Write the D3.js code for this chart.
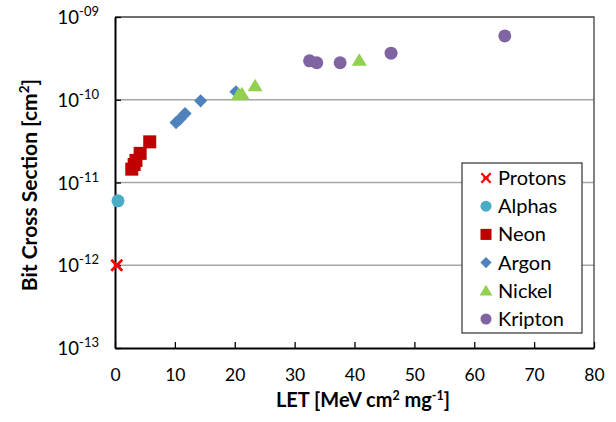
<!DOCTYPE html>
<html>
<head>
<meta charset="utf-8">
<script src="https://cdn.jsdelivr.net/npm/d3@7"></script>
<style>
  body { margin: 0; background: #fff; }
  text { font-family: Lato, "Open Sans", sans-serif; fill: #000; }
</style>
</head>
<body>
<div class="canvas"></div>
<script>
// data: [LET, cross section]
const protons = [[0.3, 1.0e-12]];
const alphas = [[0.5, 6.0e-12]];
const neon = [[2.8, 1.45e-11], [3.2, 1.65e-11], [3.5, 1.85e-11], [4.2, 2.25e-11], [5.8, 3.1e-11]];
const argon = [[10.2, 5.3e-11], [10.8, 5.8e-11], [11.7, 6.8e-11], [14.3, 9.7e-11], [20.2, 1.25e-10]];
const nickel = [[20.6, 1.15e-10], [21.2, 1.18e-10], [23.4, 1.48e-10], [40.8, 3.0e-10]];
const kripton = [[32.5, 2.95e-10], [33.7, 2.8e-10], [37.6, 2.8e-10], [46.1, 3.65e-10], [65.1, 5.9e-10]];

const xTicks = [0, 10, 20, 30, 40, 50, 60, 70, 80];
const yTicks = [1e-13, 1e-12, 1e-11, 1e-10, 1e-9];
const yTickLabels = ['-13', '-12', '-11', '-10', '-09'];

const series = [
    { name: 'Protons', data: protons, color: '#ff0000', shape: 'x' },
    { name: 'Alphas', data: alphas, color: '#4bacc6', shape: 'circle' },
    { name: 'Neon', data: neon, color: '#c00000', shape: 'square' },
    { name: 'Argon', data: argon, color: '#4f81bd', shape: 'diamond' },
    { name: 'Nickel', data: nickel, color: '#92d050', shape: 'triangle' },
    { name: 'Kripton', data: kripton, color: '#8064a2', shape: 'circle' }
];

const W = 616, H = 422;
const plot = { left: 115, right: 594, top: 17, bottom: 348 };

const svg = d3.select('.canvas')
    .append('svg')
    .attr('width', W)
    .attr('height', H);

const x = d3.scaleLinear().domain([0, 80]).range([plot.left, plot.right]);
const y = d3.scaleLog().domain([1e-13, 1e-9]).range([plot.bottom, plot.top]);

// gridlines
svg.append('g')
    .selectAll('line')
    .data(yTicks.slice(1, -1))
    .join('line')
    .attr('x1', plot.left).attr('x2', plot.right)
    .attr('y1', d => y(d)).attr('y2', d => y(d))
    .attr('stroke', '#a6a6a6').attr('stroke-width', 1.3);

// frame (top + right)
svg.append('path')
    .attr('d', `M${plot.left},${plot.top}H${plot.right}V${plot.bottom}`)
    .attr('fill', 'none').attr('stroke', '#404040').attr('stroke-width', 1.3);

// x axis, ticks inward
const xAxis = svg.append('g')
    .attr('transform', `translate(0,${plot.bottom})`)
    .call(d3.axisBottom(x).tickValues(xTicks).tickSizeInner(-6).tickSizeOuter(0).tickPadding(21));
xAxis.select('.domain').attr('stroke', '#000').attr('stroke-width', 2);
xAxis.selectAll('.tick line').attr('stroke', '#000').attr('stroke-width', 1.3);
xAxis.selectAll('.tick text').attr('font-size', 17.5).attr('font-family', 'Lato, sans-serif');

// y axis, ticks inward
const yAxis = svg.append('g')
    .attr('transform', `translate(${plot.left},0)`)
    .call(d3.axisLeft(y).tickValues(yTicks).tickSizeInner(-6).tickSizeOuter(0).tickFormat(''));
yAxis.select('.domain').attr('stroke', '#000').attr('stroke-width', 2);
yAxis.selectAll('.tick line').attr('stroke', '#000').attr('stroke-width', 1.3);

// y tick labels as 10 with superscript
const yl = svg.append('g').selectAll('text')
    .data(yTicks)
    .join('text')
    .attr('x', 99)
    .attr('y', d => y(d) + 7)
    .attr('text-anchor', 'end')
    .attr('font-size', 18.5);
yl.append('tspan').text('10');
yl.append('tspan').attr('dy', -8).attr('font-size', 13).text((d, i) => yTickLabels[i]);

// axis titles
const xt = svg.append('text')
    .attr('x', 363)
    .attr('y', 407)
    .attr('text-anchor', 'middle')
    .attr('font-size', 20).attr('font-weight', 'bold');
xt.append('tspan').text('LET [MeV cm');
xt.append('tspan').attr('dy', -7).attr('font-size', 12.5).text('2');
xt.append('tspan').attr('dy', 7).text(' mg');
xt.append('tspan').attr('dy', -7).attr('font-size', 12.5).text('-1');
xt.append('tspan').attr('dy', 7).text(']');

const yt = svg.append('text')
    .attr('transform', `translate(37,${185}) rotate(-90)`)
    .attr('text-anchor', 'middle')
    .attr('font-size', 21).attr('font-weight', 'bold');
yt.append('tspan').text('Bit Cross Section [cm');
yt.append('tspan').attr('dy', -8).attr('font-size', 13.5).text('2');
yt.append('tspan').attr('dy', 8).text(']');

// marker drawing
function marker(sel, shape, color) {
    if (shape === 'x') {
        sel.append('path').attr('d', 'M-5.5,-5.5L5.5,5.5M-5.5,5.5L5.5,-5.5')
            .attr('stroke', color).attr('stroke-width', 2.6).attr('fill', 'none');
        sel.append('path').attr('d', 'M-3,0L3,0').attr('stroke', color).attr('stroke-width', 2.6);
    } else if (shape === 'circle') {
        sel.append('circle').attr('r', 6.5).attr('fill', color);
    } else if (shape === 'square') {
        sel.append('rect').attr('x', -6.5).attr('y', -6.5).attr('width', 13).attr('height', 13).attr('fill', color);
    } else if (shape === 'diamond') {
        sel.append('path').attr('d', d3.symbol(d3.symbolDiamond2, 110)()).attr('fill', color);
    } else if (shape === 'triangle') {
        sel.append('path').attr('d', 'M0,-7L7.5,5.5L-7.5,5.5Z').attr('fill', color);
    }
}

// points
series.forEach(s => {
    svg.append('g')
        .selectAll('g')
        .data(s.data)
        .join('g')
        .attr('transform', d => `translate(${x(d[0])},${y(d[1])})`)
        .each(function () { marker(d3.select(this), s.shape, s.color); });
});

// legend
const lg = svg.append('g').attr('transform', 'translate(462,163)');
lg.append('rect').attr('width', 120).attr('height', 170)
    .attr('fill', '#fff').attr('stroke', '#404040').attr('stroke-width', 1.3);
series.forEach((s, i) => {
    const row = lg.append('g').attr('transform', `translate(24,${15 + i * 28.2})`);
    const m = row.append('g').attr('transform', 'scale(0.85)');
    marker(m, s.shape, s.color);
    row.append('text').attr('x', 12).attr('y', 7).attr('font-size', 20).text(s.name);
});
</script>
</body>
</html>
